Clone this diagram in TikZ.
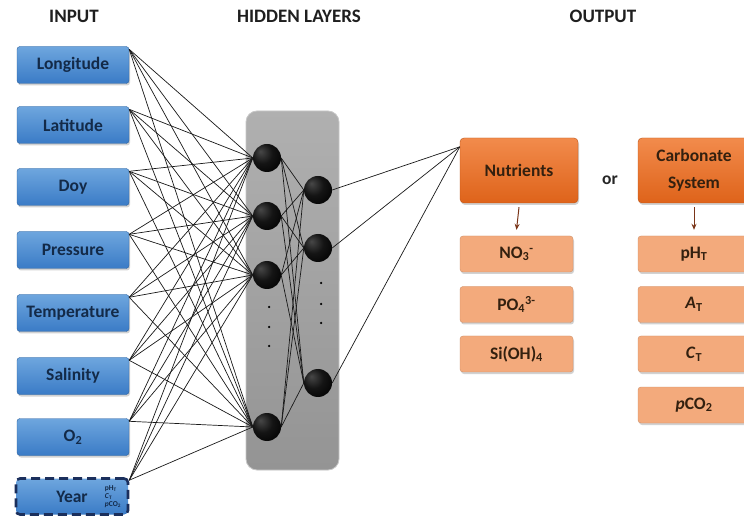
\documentclass[tikz,border=0pt]{standalone}
\usepackage{fontspec}
\setmainfont{Carlito}
\usetikzlibrary{shadows,arrows.meta}
\definecolor{bluetop}{HTML}{6EA6DE}
\definecolor{bluebot}{HTML}{3A7BC6}
\definecolor{navytext}{HTML}{132A48}
\definecolor{navyline}{HTML}{1B2F5C}
\definecolor{orgtop}{HTML}{F28B4C}
\definecolor{orgbot}{HTML}{DE631A}
\definecolor{lightorg}{HTML}{F3AA7C}
\definecolor{browntext}{HTML}{33200F}
\definecolor{arrowbrown}{HTML}{7A3518}
\pgfdeclareradialshading{darkball}{\pgfpoint{-12bp}{12bp}}{color(0bp)=(black!72); color(18bp)=(black!92); color(38bp)=(black); color(60bp)=(black)}
\tikzset{
  lbl/.style={font=\fontsize{17.5}{20}\selectfont\bfseries},
  shad/.style={drop shadow={opacity=0.35,shadow xshift=1pt,shadow yshift=-2pt}},
  inbox/.style={lbl,shad,rounded corners=3pt,minimum width=112pt,minimum height=37pt,
    top color=bluetop,bottom color=bluebot,draw=bluebot!80!black,line width=0.4pt,text=navytext},
  yearbox/.style={lbl,rounded corners=4pt,minimum width=112pt,minimum height=36pt,
    top color=bluetop,bottom color=bluebot,draw=navyline,line width=2.6pt,
    dash pattern=on 9pt off 5pt,text=navytext},
  outbig/.style={shad,rounded corners=4pt,minimum width=118pt,minimum height=65pt,
    top color=orgtop,bottom color=orgbot,draw=orgbot!85!black,line width=0.4pt,
    text=browntext,align=center,font=\fontsize{17.5}{27}\selectfont\bfseries},
  outsmall/.style={lbl,shad,rounded corners=3pt,minimum width=113pt,minimum height=36pt,
    fill=lightorg,draw=lightorg!85!black,line width=0.4pt,text=browntext},
  neuron/.style={circle,minimum size=28pt,inner sep=0pt,shading=darkball},
  conn/.style={line width=0.7pt,black!90},
  title/.style={font=\fontsize{19}{22}\selectfont\bfseries,text=black!88},
  hdot/.style={circle,fill=black,inner sep=0pt,minimum size=2.5pt},
}
\begin{document}
\begin{tikzpicture}[x=1pt,y=-1pt]
\clip (0,0) rectangle (744,518);
\fill[white] (0,0) rectangle (744,518);
% titles
\node[title] (tin) at (74,16) {INPUT};
\node[title] (thid) at (299,16) {HIDDEN LAYERS};
\node[title] (tout) at (603,16) {OUTPUT};
% hidden layer panel
\node[rounded corners=11pt,minimum width=93pt,minimum height=359pt,
  top color=black!31,bottom color=black!42,draw=black!22,line width=0.8pt] (panel) at (292.5,290.5) {};
% inputs
\node[inbox] (lon) at (73,65) {Longitude};
\node[inbox] (lat) at (73,125) {Latitude};
\node[inbox] (doy) at (73,187) {Doy};
\node[inbox] (pres) at (73,250) {Pressure};
\node[inbox] (temp) at (73,313) {Temperature};
\node[inbox] (sal) at (73,376) {Salinity};
\node[inbox] (oxy) at (73,437) {O\textsubscript{2}};
\node[yearbox] (year) at (72,496.5) {Year};
\node[align=left,font=\fontsize{7.5}{8}\selectfont\bfseries,text=navytext,inner sep=0pt] (yearsub) at (113,497)
  {pH\textsubscript{T}\\\textit{C}\textsubscript{T}\\\textit{p}CO\textsubscript{2}};
% neurons
\node[neuron] (h1) at (267,158) {};
\node[neuron] (h2) at (267,216) {};
\node[neuron] (h3) at (267,275) {};
\node[neuron] (h4) at (267,427) {};
\node[neuron] (o1) at (318,190) {};
\node[neuron] (o2) at (318,248) {};
\node[neuron] (o3) at (318,383) {};
\node[hdot] (d1) at (269,307) {};
\node[hdot] (d2) at (269,327) {};
\node[hdot] (d3) at (269,346) {};
\node[hdot] (e1) at (321,283) {};
\node[hdot] (e2) at (321,304) {};
\node[hdot] (e3) at (321,323) {};
% outputs
\node[outbig] (nut) at (519,170.5) {Nutrients};
\node[outbig,minimum width=112pt] (carb) at (694,170.5) {Carbonate\\System};
\node[lbl,text=black!85] (or) at (610,180) {or};
\node[outsmall] (no3) at (516.5,254) {NO\textsubscript{3}\textsuperscript{-}};
\node[outsmall] (po4) at (516.5,304.5) {PO\textsubscript{4}\textsuperscript{3-}};
\node[outsmall] (sioh) at (516.5,354) {Si(OH)\textsubscript{4}};
\node[outsmall,minimum width=112pt] (ph) at (694,254) {pH\textsubscript{T}};
\node[outsmall,minimum width=112pt] (at) at (694,304.5) {\textit{A}\textsubscript{T}};
\node[outsmall,minimum width=112pt] (ct) at (694,354) {\textit{C}\textsubscript{T}};
\node[outsmall,minimum width=112pt] (pco) at (694,405) {\textit{p}CO\textsubscript{2}};
% connectors input -> hidden 1
\foreach \i in {lon,lat,doy,pres,temp,sal,oxy,year}
  \foreach \j in {h1,h2,h3,h4}
    \draw[conn] ([yshift=-3pt]\i.north east) -- (\j.west);
% hidden 1 -> hidden 2
\foreach \i in {h1,h2,h3,h4}
  \foreach \j in {o1,o2,o3}
    \draw[conn] (\i.east) -- (\j.west);
% hidden 2 -> output
\foreach \i in {o1,o2,o3}
  \draw[conn] (\i.east) -- ([yshift=-9pt]nut.north west);
% arrows
\draw[arrowbrown,line width=1pt,-{Stealth[length=6pt,width=5pt]}]
  ([yshift=-4pt]nut.south) -- ([yshift=6pt]no3.north);
\draw[arrowbrown,line width=1pt,-{Stealth[length=6pt,width=5pt]}]
  ([yshift=-4pt]carb.south) -- ([yshift=6pt]ph.north);
\end{tikzpicture}
\end{document}
